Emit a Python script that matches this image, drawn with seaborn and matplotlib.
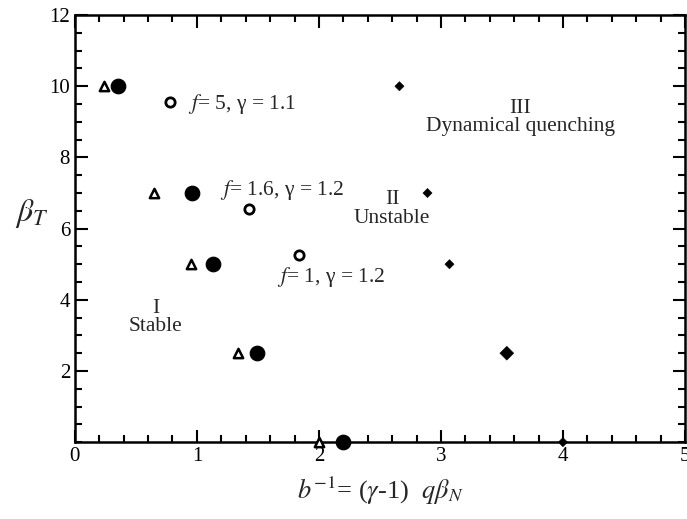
#!/usr/bin/env python3

# Import libraries
import pandas as pd
import matplotlib.pyplot as plt
import seaborn as sns
from matplotlib.ticker import MultipleLocator

# Data
tri_x = [0.24, 0.65, 0.95, 1.34, 2.0]
tri_y = [10, 7, 5, 2.5, 0]

dot_x = [0.35, 0.96, 1.13, 1.49, 2.2]
dot_y = [10, 7, 5, 2.5, 0]

open_x = [0.78, 1.43, 1.84]
open_y = [9.55, 6.55, 5.25]

dia_x = [2.66, 2.89, 3.07, 3.54, 4.0]
dia_y = [10, 7, 5, 2.5, 0]


def plot():
    sns.set_style("ticks")
    plt.rcParams['font.family'] = ['Liberation Serif', 'DejaVu Serif']
    plt.rcParams['mathtext.fontset'] = 'stix'

    fig = plt.figure(figsize=(6.87, 5.19), dpi=100)
    ax = fig.add_axes([0.109, 0.148, 0.888, 0.823])

    sns.scatterplot(x=tri_x, y=tri_y, ax=ax, marker="^", s=45,
                    facecolor="white", edgecolor="black", linewidth=1.8, clip_on=False, zorder=3)
    sns.scatterplot(x=dot_x, y=dot_y, ax=ax, marker="o", s=110,
                    color="black", edgecolor="black", clip_on=False, zorder=3)
    sns.scatterplot(x=open_x, y=open_y, ax=ax, marker="o", s=45,
                    facecolor="white", edgecolor="black", linewidth=2, zorder=3)
    sns.scatterplot(x=dia_x, y=dia_y, ax=ax, marker="D",
                    size=[1, 1, 1, 2, 1], sizes=(22, 50), legend=False,
                    color="black", edgecolor="black", clip_on=False, zorder=3)

    ax.set_xlim(0, 5)
    ax.set_ylim(0, 12)
    ax.xaxis.set_major_locator(MultipleLocator(1))
    ax.xaxis.set_minor_locator(MultipleLocator(0.2))
    ax.yaxis.set_minor_locator(MultipleLocator(0.5))
    ax.set_yticks([2, 4, 6, 8, 10, 12])
    ax.tick_params(which="both", direction="in", top=True, right=True,
                   width=1.5, labelsize=15, colors="black")
    ax.tick_params(which="major", length=9)
    ax.tick_params(which="minor", length=5)
    for sp in ax.spines.values():
        sp.set_linewidth(1.8)
        sp.set_color("black")

    # Annotations
    ax.text(0.93, 9.5, r"$f$= 5, γ = 1.1", fontsize=15.5, va="center", ha="left")
    ax.text(1.19, 7.08, r"$f$= 1.6, γ = 1.2", fontsize=15.5, va="center", ha="left")
    ax.text(1.66, 4.63, r"$f$= 1, γ = 1.2", fontsize=15.5, va="center", ha="left")
    ax.text(0.66, 3.5, "I\nStable", fontsize=15.5, ha="center", va="center", linespacing=0.95)
    ax.text(2.6, 6.55, "II\nUnstable", fontsize=15.5, ha="center", va="center", linespacing=0.95)
    ax.text(3.65, 9.13, "III\nDynamical quenching", fontsize=15.5, ha="center", va="center",
            linespacing=0.95)

    ax.set_xlabel(r"$b^{-1}$= ($\gamma$-1)  $q\beta_N$", fontsize=19, labelpad=6)
    ax.set_ylabel(r"$\beta_T$", fontsize=23, rotation=0, va="center")
    ax.yaxis.set_label_coords(-0.07, 0.535)

    fig.savefig("out.png", dpi=100)


if __name__ == '__main__':
    plot()
